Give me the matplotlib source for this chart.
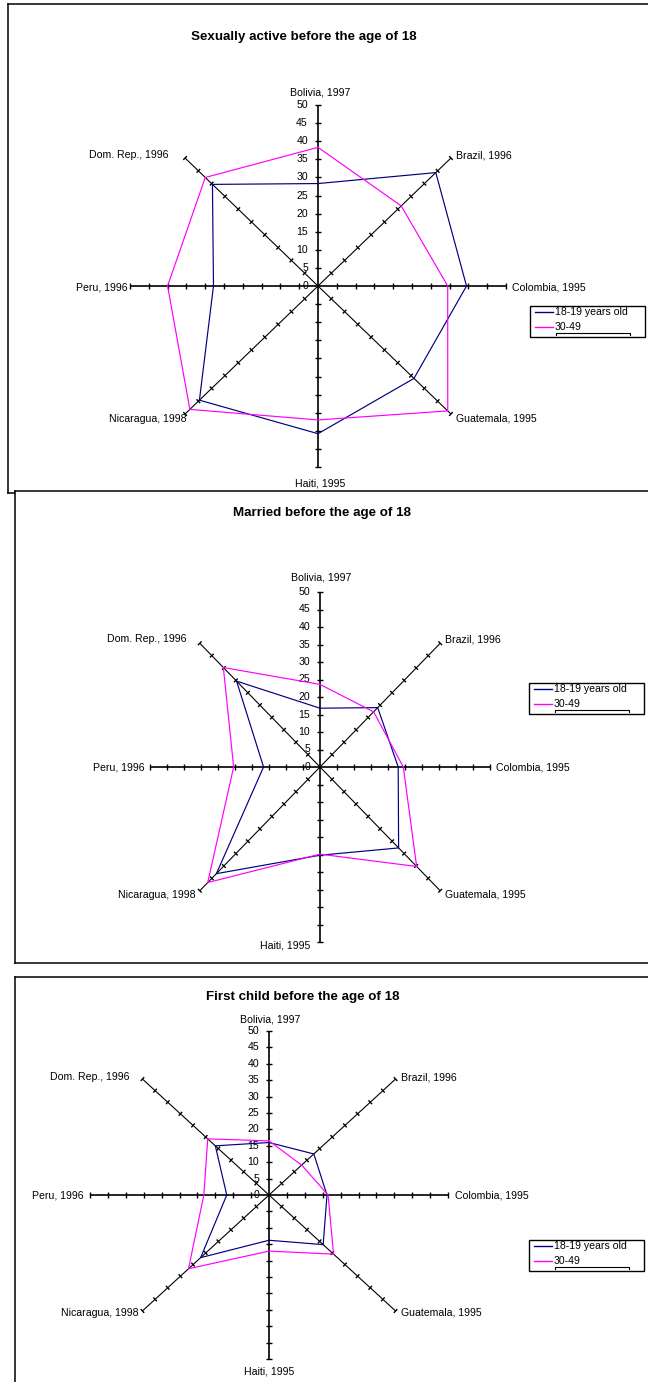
import numpy as np
import matplotlib
matplotlib.use("Agg")
import matplotlib.pyplot as plt
from matplotlib.lines import Line2D
from matplotlib.patches import Rectangle
from matplotlib.collections import LineCollection

plt.rcParams['font.family'] = ['Liberation Sans', 'DejaVu Sans']

# ---------------- data ----------------
categories = ["Bolivia, 1997", "Brazil, 1996", "Colombia, 1995", "Guatemala, 1995",
              "Haiti, 1995", "Nicaragua, 1998", "Peru, 1996", "Dom. Rep., 1996"]
series_names = ["18-19 years old", "30-49"]
radial_ticks = [0, 5, 10, 15, 20, 25, 30, 35, 40, 45, 50]
titles = ["Sexually active before the age of 18",
          "Married before the age of 18",
          "First child before the age of 18"]

sexual_18_19 = [28.3, 44.3, 39.5, 36.1, 40.8, 44.6, 27.8, 39.7]
sexual_30_49 = [38.3, 31.3, 34.5, 48.8, 37.0, 48.2, 40.0, 42.4]
married_18_19 = [16.8, 24.0, 23.0, 32.7, 25.2, 43.1, 16.6, 34.7]
married_30_49 = [23.6, 22.3, 24.5, 40.2, 24.9, 46.7, 25.4, 40.2]
child_18_19 = [16.0, 17.7, 16.2, 21.4, 13.8, 27.0, 11.8, 21.2]
child_30_49 = [16.5, 12.9, 16.5, 25.5, 17.1, 31.8, 18.2, 24.2]

panel_data = [(sexual_18_19, sexual_30_49),
              (married_18_19, married_30_49),
              (child_18_19, child_30_49)]

# ---------------- layout (pixels, y from top) ----------------
W, H = 648, 1382
colors = ["#000080", "#FF00FF"]

panels = [
    dict(box=(8, 4, 660, 493), center=(318, 286), sx=3.76, sy=3.62, title=(304, 37),
         legend=(530, 306),
         lab=[(2, -13, 'center'), (5, -3, 'left'), (6, 1, 'left'), (5, 5, 'left'),
              (2, 16, 'center'), (1, 5, 'right'), (-2, 1, 'right'), (-17, -3, 'right')]),
    dict(box=(15, 491, 660, 963), center=(320, 767), sx=3.40, sy=3.50, title=(322, 513),
         legend=(529, 683),
         lab=[(1, -14, 'center'), (5, -4, 'left'), (6, 0, 'left'), (5, 4, 'left'),
              (-10, 3, 'right'), (-4, 4, 'right'), (-5, 0, 'right'), (-13, -4, 'right')]),
    dict(box=(15, 977, 660, 1400), center=(269, 1195), sx=3.58, sy=3.28, title=(303, 997),
         legend=(529, 1240),
         lab=[(1, -12, 'center'), (5, -2, 'left'), (7, 0, 'left'), (5, 2, 'left'),
              (0, 13, 'center'), (-4, 2, 'right'), (-6, 0, 'right'), (-13, -2, 'right')]),
]

fig = plt.figure(figsize=(W / 100, H / 100), dpi=100)
PT = 0.72  # points per pixel at 100 dpi


def fx(x):
    return x / W


def fy(y):
    return 1 - y / H


n = len(categories)
angles = np.deg2rad(np.arange(n) * 360.0 / n)
rmax = radial_ticks[-1]

for i, (p, (s1, s2), title) in enumerate(zip(panels, panel_data, titles)):
    L, T, R, B = p['box']
    cx, cy = p['center']
    sx, sy = p['sx'], p['sy']
    ax = fig.add_axes([fx(L), fy(B), (R - L) / W, (B - T) / H])
    ax.set_zorder(i + 1)
    ax.set_facecolor('white')
    ax.set_xlim((L - cx) / sx, (R - cx) / sx)
    ax.set_ylim((cy - B) / sy, (cy - T) / sy)
    ax.set_xticks([])
    ax.set_yticks([])
    for sp in ax.spines.values():
        sp.set_linewidth(1.1)
        sp.set_color('black')

    # spokes and ticks
    segs_main, segs_diag, tick_segs = [], [], []
    h = 2.6  # half tick length px
    for k, th in enumerate(angles):
        s, c = np.sin(th), np.cos(th)
        seg = [(0, 0), (rmax * s, rmax * c)]
        if k % 2 == 0:
            segs_main.append(seg)
        else:
            segs_diag.append(seg)
        ux, uy = s * sx, c * sy
        norm = np.hypot(ux, uy)
        ux, uy = ux / norm, uy / norm
        px, py = -uy / sx, ux / sy
        for t in radial_ticks[1:]:
            x0, y0 = t * s, t * c
            tick_segs.append([(x0 - h * px, y0 - h * py), (x0 + h * px, y0 + h * py)])
    ax.add_collection(LineCollection(segs_main, colors='black', linewidths=1.2, zorder=2))
    ax.add_collection(LineCollection(segs_diag, colors='black', linewidths=0.8, zorder=2))
    ax.add_collection(LineCollection(tick_segs, colors='black', linewidths=1.0, zorder=2))

    # radial tick labels on the top spoke
    for t in radial_ticks:
        ax.annotate(str(t), xy=(0, t), xytext=(-10 * PT, 0), textcoords='offset points',
                    ha='right', va='center', fontsize=7.6, zorder=3)

    # category labels
    for k, (th, name) in enumerate(zip(angles, categories)):
        dx, dy, ha = p['lab'][k]
        ax.annotate(name, xy=(rmax * np.sin(th), rmax * np.cos(th)),
                    xytext=(dx * PT, -dy * PT), textcoords='offset points',
                    ha=ha, va='center', fontsize=7.6, zorder=3)

    # data polygons
    closed = np.append(angles, angles[0])
    for vals, col in zip((s1, s2), colors):
        v = np.append(vals, vals[0])
        ax.plot(v * np.sin(closed), v * np.cos(closed), color=col, lw=0.85, zorder=4)

    # title
    fig.text(fx(p['title'][0]), fy(p['title'][1]), title, ha='center', va='center',
             fontsize=9.6, fontweight='bold', zorder=10 + i)

    # legend box (drawn manually to match original layout)
    lx, ly = p['legend']
    rect = Rectangle((fx(lx), fy(ly + 31)), 115 / W, 31 / H, transform=fig.transFigure,
                     facecolor='white', edgecolor='black', lw=1.0, zorder=20 + i)
    fig.add_artist(rect)
    for j, (nm, col) in enumerate(zip(series_names, colors)):
        yy = ly + 6 + 15 * j
        fig.add_artist(Line2D([fx(lx + 5), fx(lx + 23)], [fy(yy), fy(yy)], color=col,
                              lw=1.0, transform=fig.transFigure, zorder=21 + i))
        fig.text(fx(lx + 25), fy(yy), nm, ha='left', va='center', fontsize=7.6,
                 zorder=21 + i)
    bx0, bx1, by = lx + 26, lx + 100, ly + 27
    fig.add_artist(Line2D([fx(bx0), fx(bx0), fx(bx1), fx(bx1)],
                          [fy(by + 2), fy(by), fy(by), fy(by + 2)], color='black', lw=0.8,
                          transform=fig.transFigure, zorder=21 + i))

fig.savefig("out.png", dpi=100)
